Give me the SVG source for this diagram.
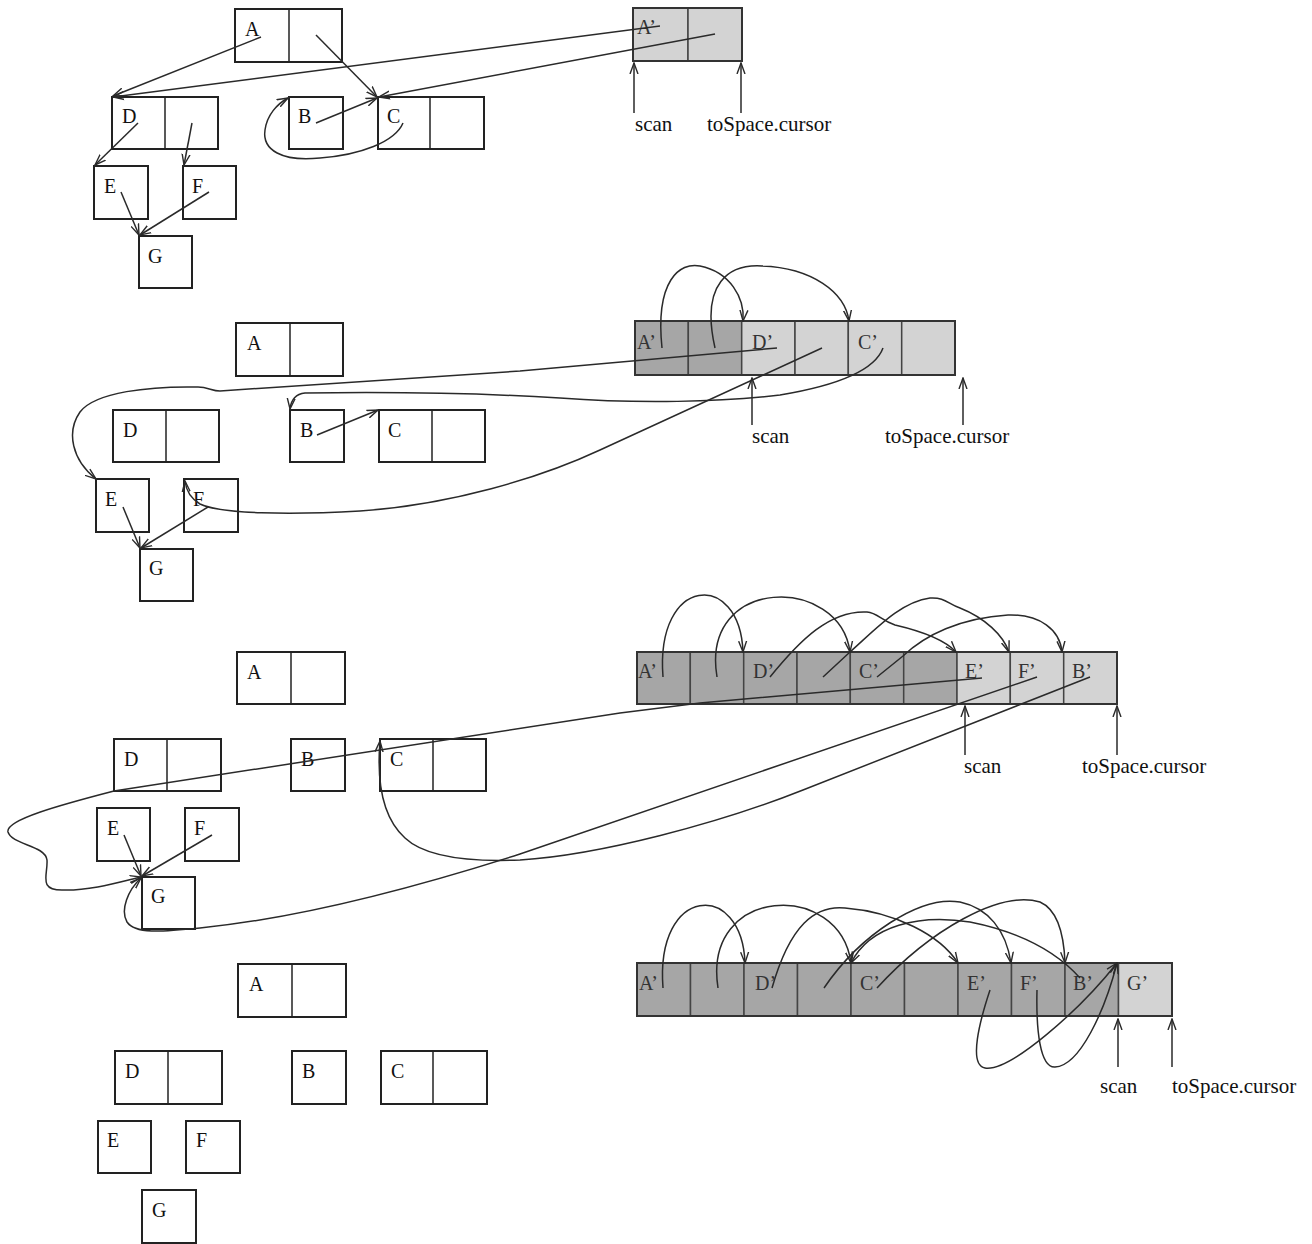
<svg xmlns="http://www.w3.org/2000/svg" width="1312" height="1244" viewBox="0 0 1312 1244">
<defs>
<marker id="arr" viewBox="0 0 12 10" refX="11" refY="5" markerWidth="12" markerHeight="10" markerUnits="userSpaceOnUse" orient="auto">
<path d="M0,1 L11,5 L0,9" fill="none" stroke="#2a2a2a" stroke-width="1.4"/>
</marker>
<style>
.box{fill:#fff;stroke:#222;stroke-width:2}
.dv{stroke:#222;stroke-width:1.5}
.lbl{font-family:"Liberation Serif","Times New Roman",serif;font-size:20px;fill:#111}
.ptr{font-family:"Liberation Serif","Times New Roman",serif;font-size:21px;fill:#111}
.tl{font-family:"Liberation Serif","Times New Roman",serif;font-size:20px;fill:#333}
.dark{fill:#a6a6a6;stroke:#444;stroke-width:1.5}
.light{fill:#d3d3d3;stroke:#444;stroke-width:1.5}
.frame{fill:none;stroke:#333;stroke-width:2}
.e{fill:none;stroke:#2a2a2a;stroke-width:1.5;marker-end:url(#arr)}
</style>
</defs>
<rect width="1312" height="1244" fill="#fff"/>

<!-- Panel 1 from-space -->
<g id="p1-A"><rect class="box" x="235" y="9" width="107" height="53"/><line class="dv" x1="289" y1="9" x2="289" y2="62"/><text class="lbl" x="245" y="36">A</text></g>
<g id="p1-D"><rect class="box" x="112" y="97" width="106" height="52"/><line class="dv" x1="165" y1="97" x2="165" y2="149"/><text class="lbl" x="122" y="123">D</text></g>
<g id="p1-B"><rect class="box" x="289" y="97" width="54" height="52"/><text class="lbl" x="298" y="123">B</text></g>
<g id="p1-C"><rect class="box" x="378" y="97" width="106" height="52"/><line class="dv" x1="430" y1="97" x2="430" y2="149"/><text class="lbl" x="387" y="123">C</text></g>
<g id="p1-E"><rect class="box" x="94" y="166" width="54" height="53"/><text class="lbl" x="104" y="193">E</text></g>
<g id="p1-F"><rect class="box" x="183" y="166" width="53" height="53"/><text class="lbl" x="192" y="193">F</text></g>
<g id="p1-G"><rect class="box" x="139" y="236" width="53" height="52"/><text class="lbl" x="148" y="263">G</text></g>
<g id="p1-tospace">
<rect class="light" x="633" y="8" width="55" height="53"/><rect class="light" x="688" y="8" width="54" height="53"/>
<rect class="frame" x="633" y="8" width="109" height="53"/>
<text class="tl" x="637" y="34">A’</text>
</g>
<g id="p1-scan"><text class="ptr" x="635" y="131">scan</text></g>
<g id="p1-cursor"><text class="ptr" x="707" y="131">toSpace.cursor</text></g>

<!-- Panel 2 from-space -->
<g id="p2-A"><rect class="box" x="236" y="323" width="107" height="53"/><line class="dv" x1="290" y1="323" x2="290" y2="376"/><text class="lbl" x="247" y="350">A</text></g>
<g id="p2-D"><rect class="box" x="113" y="410" width="106" height="52"/><line class="dv" x1="166" y1="410" x2="166" y2="462"/><text class="lbl" x="123" y="437">D</text></g>
<g id="p2-B"><rect class="box" x="290" y="410" width="54" height="52"/><text class="lbl" x="300" y="437">B</text></g>
<g id="p2-C"><rect class="box" x="379" y="410" width="106" height="52"/><line class="dv" x1="432" y1="410" x2="432" y2="462"/><text class="lbl" x="388" y="437">C</text></g>
<g id="p2-E"><rect class="box" x="96" y="479" width="53" height="53"/><text class="lbl" x="105" y="506">E</text></g>
<g id="p2-F"><rect class="box" x="184" y="479" width="54" height="53"/><text class="lbl" x="193" y="506">F</text></g>
<g id="p2-G"><rect class="box" x="140" y="549" width="53" height="52"/><text class="lbl" x="149" y="575">G</text></g>
<g id="p2-tospace">
<rect class="dark" x="635" y="321" width="53.3" height="54"/><rect class="dark" x="688.3" y="321" width="53.4" height="54"/>
<rect class="light" x="741.7" y="321" width="53.3" height="54"/><rect class="light" x="795" y="321" width="53.3" height="54"/>
<rect class="light" x="848.3" y="321" width="53.4" height="54"/><rect class="light" x="901.7" y="321" width="53.3" height="54"/>
<rect class="frame" x="635" y="321" width="320" height="54"/>
<text class="tl" x="637" y="349">A’</text><text class="tl" x="752" y="349">D’</text><text class="tl" x="858" y="349">C’</text>
</g>
<g id="p2-scan"><text class="ptr" x="752" y="443">scan</text></g>
<g id="p2-cursor"><text class="ptr" x="885" y="443">toSpace.cursor</text></g>

<!-- Panel 3 from-space -->
<g id="p3-A"><rect class="box" x="237" y="652" width="108" height="52"/><line class="dv" x1="291" y1="652" x2="291" y2="704"/><text class="lbl" x="247" y="679">A</text></g>
<g id="p3-D"><rect class="box" x="114" y="739" width="107" height="52"/><line class="dv" x1="167" y1="739" x2="167" y2="791"/><text class="lbl" x="124" y="766">D</text></g>
<g id="p3-B"><rect class="box" x="291" y="739" width="54" height="52"/><text class="lbl" x="301" y="766">B</text></g>
<g id="p3-C"><rect class="box" x="380" y="739" width="106" height="52"/><line class="dv" x1="433" y1="739" x2="433" y2="791"/><text class="lbl" x="390" y="766">C</text></g>
<g id="p3-E"><rect class="box" x="97" y="808" width="53" height="53"/><text class="lbl" x="107" y="835">E</text></g>
<g id="p3-F"><rect class="box" x="185" y="808" width="54" height="53"/><text class="lbl" x="194" y="835">F</text></g>
<g id="p3-G"><rect class="box" x="142" y="877" width="53" height="52"/><text class="lbl" x="151" y="903">G</text></g>
<g id="p3-tospace">
<rect class="dark" x="637" y="652" width="53.3" height="52"/><rect class="dark" x="690.3" y="652" width="53.4" height="52"/>
<rect class="dark" x="743.7" y="652" width="53.3" height="52"/><rect class="dark" x="797" y="652" width="53.3" height="52"/>
<rect class="dark" x="850.3" y="652" width="53.4" height="52"/><rect class="dark" x="903.7" y="652" width="53.3" height="52"/>
<rect class="light" x="957" y="652" width="53.3" height="52"/><rect class="light" x="1010.3" y="652" width="53.4" height="52"/>
<rect class="light" x="1063.7" y="652" width="53.3" height="52"/>
<rect class="frame" x="637" y="652" width="480" height="52"/>
<text class="tl" x="638" y="678">A’</text><text class="tl" x="753" y="678">D’</text><text class="tl" x="859" y="678">C’</text>
<text class="tl" x="965" y="678">E’</text><text class="tl" x="1018" y="678">F’</text><text class="tl" x="1072" y="678">B’</text>
</g>
<g id="p3-scan"><text class="ptr" x="964" y="773">scan</text></g>
<g id="p3-cursor"><text class="ptr" x="1082" y="773">toSpace.cursor</text></g>

<!-- Panel 4 from-space -->
<g id="p4-A"><rect class="box" x="238" y="964" width="108" height="53"/><line class="dv" x1="292" y1="964" x2="292" y2="1017"/><text class="lbl" x="249" y="991">A</text></g>
<g id="p4-D"><rect class="box" x="115" y="1051" width="107" height="53"/><line class="dv" x1="168" y1="1051" x2="168" y2="1104"/><text class="lbl" x="125" y="1078">D</text></g>
<g id="p4-B"><rect class="box" x="292" y="1051" width="54" height="53"/><text class="lbl" x="302" y="1078">B</text></g>
<g id="p4-C"><rect class="box" x="381" y="1051" width="106" height="53"/><line class="dv" x1="433" y1="1051" x2="433" y2="1104"/><text class="lbl" x="391" y="1078">C</text></g>
<g id="p4-E"><rect class="box" x="98" y="1121" width="53" height="52"/><text class="lbl" x="107" y="1147">E</text></g>
<g id="p4-F"><rect class="box" x="186" y="1121" width="54" height="52"/><text class="lbl" x="196" y="1147">F</text></g>
<g id="p4-G"><rect class="box" x="142" y="1190" width="54" height="53"/><text class="lbl" x="152" y="1217">G</text></g>
<g id="p4-tospace">
<rect class="dark" x="637" y="963" width="53.5" height="53"/><rect class="dark" x="690.5" y="963" width="53.5" height="53"/>
<rect class="dark" x="744" y="963" width="53.5" height="53"/><rect class="dark" x="797.5" y="963" width="53.5" height="53"/>
<rect class="dark" x="851" y="963" width="53.5" height="53"/><rect class="dark" x="904.5" y="963" width="53.5" height="53"/>
<rect class="dark" x="958" y="963" width="53.5" height="53"/><rect class="dark" x="1011.5" y="963" width="53.5" height="53"/>
<rect class="dark" x="1065" y="963" width="53.5" height="53"/><rect class="light" x="1118.5" y="963" width="53.5" height="53"/>
<rect class="frame" x="637" y="963" width="535" height="53"/>
<text class="tl" x="639" y="990">A’</text><text class="tl" x="755" y="990">D’</text><text class="tl" x="860" y="990">C’</text>
<text class="tl" x="967" y="990">E’</text><text class="tl" x="1020" y="990">F’</text><text class="tl" x="1073" y="990">B’</text>
<text class="tl" x="1127" y="990">G’</text>
</g>
<g id="p4-scan"><text class="ptr" x="1100" y="1093">scan</text></g>
<g id="p4-cursor"><text class="ptr" x="1172" y="1093">toSpace.cursor</text></g>

<g id="connectors">
<!-- panel 1 -->
<path class="e" d="M261,37 L113,96"/>
<path class="e" d="M316,35 L377,97"/>
<path class="e" d="M316,123 L377,98"/>
<path class="e" d="M403,123 C395,142 360,155 320,158 C282,162 262,150 265,130 C267,115 277,104 288,98"/>
<path class="e" d="M138,123 L95,165"/>
<path class="e" d="M192,123 L184,165"/>
<path class="e" d="M121,192 L139,235"/>
<path class="e" d="M209,192 L140,235"/>
<path class="e" d="M660,26 L113,97"/>
<path class="e" d="M715,34 L379,97"/>
<path class="e" d="M634,113 L634,63"/>
<path class="e" d="M741,113 L741,63"/>
<!-- panel 2 -->
<path class="e" d="M662,348 C655,280 680,262 700,266 C730,272 745,298 743,321"/>
<path class="e" d="M715,348 C700,282 730,264 762,266 C812,268 845,292 849,321"/>
<path class="e" d="M777,348 L520,371 L220,391 C212,391 208,387 198,387 C150,386 95,392 80,412 C66,432 72,460 96,479"/>
<path class="e" d="M822,348 L600,450 C540,478 450,505 360,511 C290,515 220,514 200,504 C190,498 186,490 185,481"/>
<path class="e" d="M883,348 C875,370 840,385 780,395 C720,402 640,404 560,398 C480,393 380,392 305,393 C296,394 291,400 290,409"/>
<path class="e" d="M317,435 L378,410"/>
<path class="e" d="M123,507 L140,548"/>
<path class="e" d="M208,507 L141,548"/>
<path class="e" d="M752,425 L752,378"/>
<path class="e" d="M963,425 L963,378"/>
<!-- panel 3 -->
<path class="e" d="M663,677 C655,575 740,570 743,652"/>
<path class="e" d="M717,677 C700,575 840,575 850,652"/>
<path class="e" d="M770,677 C800,640 830,610 867,612 C878,613 880,620 895,625 C925,632 945,640 956,652"/>
<path class="e" d="M823,677 L850,652 C875,630 900,602 930,598 C945,597 948,604 960,608 C985,618 1003,635 1009,652"/>
<path class="e" d="M877,677 L903,656 C925,635 960,618 1008,615 C1040,614 1060,630 1062,652"/>
<path class="e" d="M982,678 L700,703 L620,713 L114,791 C60,805 5,820 8,832 C12,845 45,845 47,860 C48,875 38,890 62,890 C90,891 120,882 141,877"/>
<path class="e" d="M1037,677 L520,854 C420,886 300,918 200,928 C160,932 135,934 127,922 C120,910 128,890 141,878"/>
<path class="e" d="M1090,677 L803,790 C720,823 600,855 520,860 C470,862 425,857 405,838 C385,820 376,790 380,741"/>
<path class="e" d="M124,835 L141,876"/>
<path class="e" d="M212,835 L142,876"/>
<path class="e" d="M965,755 L965,706"/>
<path class="e" d="M1117,755 L1117,706"/>
<!-- panel 4 -->
<path class="e" d="M663,988 C655,885 742,880 745,963"/>
<path class="e" d="M718,988 C702,885 840,880 851,963"/>
<path class="e" d="M772,988 C790,925 815,905 845,908 C895,912 940,935 958,963"/>
<path class="e" d="M824,988 C860,935 920,895 960,902 C988,908 1006,930 1011,963"/>
<path class="e" d="M877,988 C930,930 1000,890 1040,902 C1058,910 1064,935 1065,963"/>
<path class="e" d="M1080,978 C1055,950 1020,932 970,922 C920,914 870,925 851,963"/>
<path class="e" d="M990,990 C980,1020 968,1065 985,1068 C1010,1072 1080,1010 1117,963"/>
<path class="e" d="M1037,990 C1036,1030 1040,1068 1055,1067 C1080,1066 1105,1010 1117,963"/>
<path class="e" d="M1118,1067 L1118,1019"/>
<path class="e" d="M1172,1067 L1172,1019"/>
</g>
</svg>
